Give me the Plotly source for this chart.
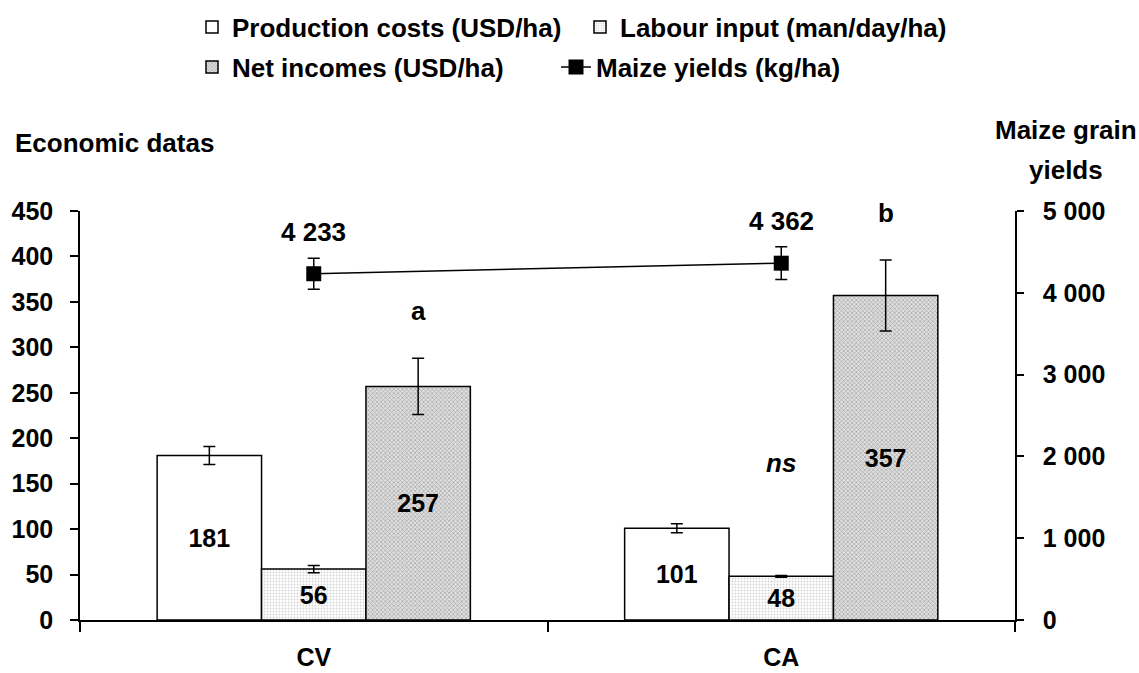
import plotly.graph_objects as go

categories = ["CV", "CA"]
production_costs = [181, 101]
production_err = [10, 5]
labour_input = [56, 48]
labour_err = [4, 1]
net_incomes = [257, 357]
net_err = [31, 39]
maize_yields = [4233, 4362]
maize_err = [190, 200]
net_letters = ["a", "b"]
labour_note = "ns"

FONT = "Arial, Liberation Sans, sans-serif"
BLACK = "#000000"
W, H = 1139, 673
L, R, T, B = 80, 124, 211, 53
PW, PH = W - L - R, H - T - B
BARGAP = 0.33

fig = go.Figure()

fig.add_trace(go.Bar(
    x=categories, y=production_costs, name="Production costs (USD/ha)",
    marker=dict(color="white", line=dict(color=BLACK, width=1.5)),
    error_y=dict(type="data", array=production_err, color=BLACK, thickness=1.5, width=6),
    text=[str(v) for v in production_costs], textposition="inside",
    insidetextanchor="middle", constraintext="none",
    textfont=dict(family=FONT, size=25, color=BLACK), legend="legend",
))
fig.add_trace(go.Bar(
    x=categories, y=labour_input, name="Labour input (man/day/ha)",
    marker=dict(color="white", line=dict(color=BLACK, width=1.5),
                pattern=dict(shape=".", size=3, solidity=0.3, fgcolor="#a8a8a8", bgcolor="white")),
    error_y=dict(type="data", array=labour_err, color=BLACK, thickness=1.5, width=6),
    text=[str(v) for v in labour_input], textposition="inside",
    insidetextanchor="middle", constraintext="none",
    textfont=dict(family=FONT, size=25, color=BLACK), legend="legend",
))
fig.add_trace(go.Bar(
    x=categories, y=net_incomes, name="Net incomes (USD/ha)",
    marker=dict(color="white", line=dict(color=BLACK, width=1.5),
                pattern=dict(shape="x", size=3, solidity=0.4, fgcolor="#6a6a6a", bgcolor="#e0e0e0")),
    error_y=dict(type="data", array=net_err, color=BLACK, thickness=1.5, width=6),
    text=[str(v) for v in net_incomes], textposition="inside",
    insidetextanchor="middle", constraintext="none",
    textfont=dict(family=FONT, size=25, color=BLACK), legend="legend2",
))
fig.add_trace(go.Scatter(
    x=categories, y=maize_yields, name="Maize yields (kg/ha)", yaxis="y2",
    mode="lines+markers",
    line=dict(color=BLACK, width=1.5),
    marker=dict(symbol="square", size=15, color=BLACK),
    error_y=dict(type="data", array=maize_err, color=BLACK, thickness=1.5, width=6),
    legend="legend2",
))

annotations = []
for i, v in enumerate(maize_yields):
    annotations.append(dict(x=i, y=v, xref="x", yref="y2", yshift=42,
                            text=f"{v:,}".replace(",", " "), showarrow=False,
                            font=dict(family=FONT, size=26, color=BLACK)))
bw = (1 - BARGAP) / 3
for i, (v, e, s) in enumerate(zip(net_incomes, net_err, net_letters)):
    annotations.append(dict(x=i + bw, y=v + e, xref="x", yref="y", yshift=47,
                            text=f"<b>{s}</b>", showarrow=False,
                            font=dict(family=FONT, size=26, color=BLACK)))
annotations.append(dict(x=1, y=173, xref="x", yref="y", text=f"<b><i>{labour_note}</i></b>",
                        showarrow=False, font=dict(family=FONT, size=26, color=BLACK)))
annotations.append(dict(x=(13 - L) / PW, y=(H - B - 143) / PH, xref="paper", yref="paper",
                        xanchor="left", yanchor="middle", text="<b>Economic datas</b>",
                        showarrow=False, font=dict(family=FONT, size=26, color=BLACK)))
annotations.append(dict(x=(1066 - L) / PW, y=(H - B - 130) / PH, xref="paper", yref="paper",
                        xanchor="center", yanchor="middle", text="<b>Maize grain</b>",
                        showarrow=False, font=dict(family=FONT, size=26, color=BLACK)))
annotations.append(dict(x=(1066 - L) / PW, y=(H - B - 170) / PH, xref="paper", yref="paper",
                        xanchor="center", yanchor="middle", text="<b>yields</b>",
                        showarrow=False, font=dict(family=FONT, size=26, color=BLACK)))

legend_font = dict(family=FONT, size=26, color=BLACK, weight="bold")

fig.update_layout(
    width=W, height=H,
    margin=dict(l=L, r=R, t=T, b=B, autoexpand=False),
    paper_bgcolor="white", plot_bgcolor="white",
    barmode="group", bargap=BARGAP, bargroupgap=0,
    separators=". ",
    font=dict(family=FONT, size=25, color=BLACK, weight="bold"),
    showlegend=True,
    legend=dict(orientation="h", xref="container", yref="container",
                x=192 / W, y=1 - 27 / H, xanchor="left", yanchor="middle",
                entrywidth=343, entrywidthmode="pixels", font=legend_font,
                bgcolor="rgba(0,0,0,0)", traceorder="normal", itemwidth=30),
    legend2=dict(orientation="h", xref="container", yref="container",
                 x=192 / W, y=1 - 67 / H, xanchor="left", yanchor="middle",
                 entrywidth=319, entrywidthmode="pixels", font=legend_font,
                 bgcolor="rgba(0,0,0,0)", traceorder="normal", itemwidth=30),
    xaxis=dict(type="category", range=[-0.5, 1.5], showline=True, linecolor=BLACK, linewidth=1.5,
               ticks="outside", tickson="boundaries", ticklen=10, tickwidth=1.5, tickcolor=BLACK,
               showgrid=False, ticklabelstandoff=14,
               tickfont=dict(family=FONT, size=25, color=BLACK, weight="bold")),
    yaxis=dict(range=[0, 450], dtick=50, tick0=0, showline=True, linecolor=BLACK, linewidth=1.5,
               ticks="outside", ticklen=8, tickwidth=1.5, tickcolor=BLACK, showgrid=False,
               zeroline=False, ticklabelstandoff=12,
               tickfont=dict(family=FONT, size=25, color=BLACK, weight="bold")),
    yaxis2=dict(range=[0, 5000], dtick=1000, tick0=0, overlaying="y", side="right",
                showline=True, linecolor=BLACK, linewidth=1.5, tickformat=",d",
                ticks="outside", ticklen=7, tickwidth=1.5, tickcolor=BLACK, showgrid=False,
                zeroline=False, ticklabelstandoff=14,
                tickfont=dict(family=FONT, size=25, color=BLACK, weight="bold")),
    annotations=annotations,
)

fig.write_html("out.html", config={"displayModeBar": False},
               post_script="document.body.style.margin='0';document.body.style.padding='0';")
